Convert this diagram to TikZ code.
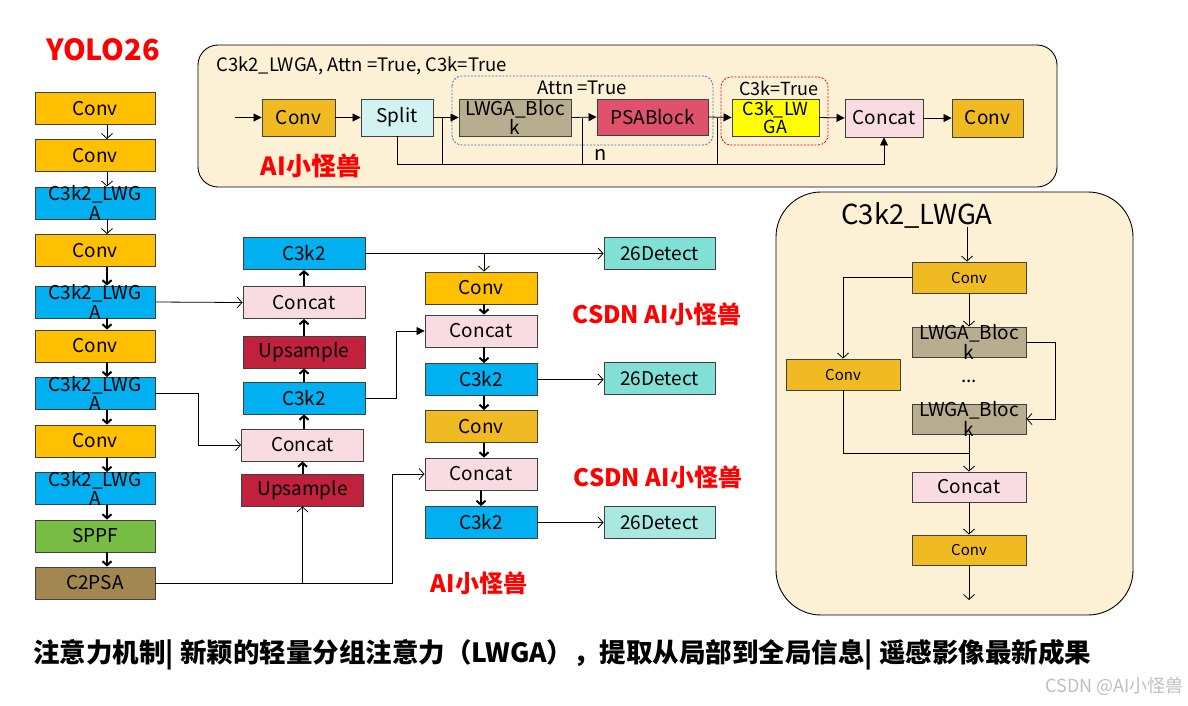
\documentclass[tikz,border=0pt]{standalone}
\usepackage{fontspec}
\setmainfont{Noto Sans CJK SC}
\usetikzlibrary{arrows.meta,calc}
\definecolor{cOr}{HTML}{FFC000}
\definecolor{cGold}{HTML}{F0BA22}
\definecolor{cBl}{HTML}{00B0F0}
\definecolor{cPk}{HTML}{F8DCE2}
\definecolor{cCr}{HTML}{C0213D}
\definecolor{cGr}{HTML}{77BC43}
\definecolor{cBr}{HTML}{A38750}
\definecolor{cTq}{HTML}{80E0D6}
\definecolor{cTq2}{HTML}{A8E8E0}
\definecolor{cCream}{HTML}{FCF0D5}
\definecolor{cKh}{HTML}{B9AD8F}
\definecolor{cPsa}{HTML}{E0526B}
\definecolor{cSp}{HTML}{D3F2F2}
\definecolor{cYe}{HTML}{FFFF00}
\definecolor{cBd}{HTML}{404040}
\definecolor{cDb}{HTML}{4472C4}
\definecolor{cRd}{HTML}{FF0000}
\tikzset{
 box/.style={draw=cBd, line width=0.9pt, inner sep=0pt, align=center, minimum height=32pt, font=\fontsize{19}{20}\selectfont},
 two/.style={label={[align=center, inner sep=0pt, font=\fontsize{19}{19.5}\selectfont]center:#1}},
 oarr/.style={draw=black, line width=0.8pt, -{Straight Barb[length=5pt,width=11pt]}},
 tarr/.style={draw=black, line width=2pt, -{Straight Barb[length=4pt,width=9pt]}},
 farr/.style={draw=black, line width=0.8pt, -{Triangle[length=8pt,width=8pt]}},
 ln/.style={draw=black, line width=0.8pt},
 wm/.style={text=cRd, font=\bfseries\fontsize{24}{28}\selectfont, inner sep=0pt},
}
\begin{document}
\begin{tikzpicture}[x=1pt,y=-1pt]
\useasboundingbox[fill=white] (0,0) rectangle (1188,705);

% ---------- title ----------
\node[wm, font=\bfseries\fontsize{29}{32}\selectfont] (yolo) at (103,50) {YOLO26};

% ---------- left backbone ----------
\node[box, fill=cOr, minimum width=120pt] (L1) at (95,108.5) {Conv};
\node[box, fill=cOr, minimum width=120pt] (L2) at (95,155.5) {Conv};
\node[box, fill=cBl, minimum width=120pt, two={C3k2\_LWG\\A}] (L3) at (95,203) {};
\node[box, fill=cOr, minimum width=120pt] (L4) at (95,250.5) {Conv};
\node[box, fill=cBl, minimum width=120pt, two={C3k2\_LWG\\A}] (L5) at (95,302) {};
\node[box, fill=cOr, minimum width=120pt] (L6) at (95,346) {Conv};
\node[box, fill=cBl, minimum width=120pt, two={C3k2\_LWG\\A}] (L7) at (95,393.5) {};
\node[box, fill=cOr, minimum width=120pt] (L8) at (95,441) {Conv};
\node[box, fill=cBl, minimum width=120pt, two={C3k2\_LWG\\A}] (L9) at (95,488.5) {};
\node[box, fill=cGr, minimum width=120pt] (L10) at (95,536) {SPPF};
\node[box, fill=cBr, minimum width=120pt] (L11) at (95,583) {C2PSA};
\coordinate (ax) at (107,0);
\draw[oarr] (L1.south -| ax) -- (L2.north -| ax);
\draw[oarr] (L2.south -| ax) -- (L3.north -| ax);
\draw[oarr] (L3.south -| ax) -- (L4.north -| ax);
\draw[tarr] (L4.south -| ax) -- (L5.north -| ax);
\draw[tarr] (L5.south -| ax) -- (L6.north -| ax);
\draw[tarr] (L6.south -| ax) -- (L7.north -| ax);
\draw[tarr] (L7.south -| ax) -- (L8.north -| ax);
\draw[tarr] (L8.south -| ax) -- (L9.north -| ax);
\draw[tarr] (L9.south -| ax) -- (L10.north -| ax);
\draw[tarr] (L10.south -| ax) -- (L11.north -| ax);

% ---------- neck column 1 ----------
\node[box, fill=cBl, minimum width=122pt] (M1) at (304,253.5) {C3k2};
\node[box, fill=cPk, minimum width=122pt] (M2) at (304,302.5) {Concat};
\node[box, fill=cCr, minimum width=122pt] (M3) at (304,352) {Upsample};
\node[box, fill=cBl, minimum width=122pt] (M4) at (304,398) {C3k2};
\node[box, fill=cPk, minimum width=122pt] (M5) at (302.5,445) {Concat};
\node[box, fill=cCr, minimum width=122pt] (M6) at (302.5,490) {Upsample};
\draw[tarr] (M5.north -| M1) -- (M4.south);
\draw[tarr] (M6.north) -- (M5.south);
\draw[tarr] (M4.north) -- (M3.south);
\draw[tarr] (M3.north) -- (M2.south);
\draw[tarr] (M2.north) -- (M1.south);

% ---------- neck column 2 ----------
\node[box, fill=cOr, minimum width=112pt] (N1) at (481,288) {Conv};
\node[box, fill=cPk, minimum width=112pt] (N2) at (481,331) {Concat};
\node[box, fill=cBl, minimum width=112pt] (N3) at (481,379.5) {C3k2};
\node[box, fill=cGold, minimum width=112pt] (N4) at (481,426.5) {Conv};
\node[box, fill=cPk, minimum width=112pt] (N5) at (481,474) {Concat};
\node[box, fill=cBl, minimum width=112pt] (N6) at (481,522.5) {C3k2};
\coordinate (bx) at (484,0);
\draw[tarr] (N1.south -| bx) -- (N2.north -| bx);
\draw[tarr] (N2.south -| bx) -- (N3.north -| bx);
\draw[tarr] (N3.south -| bx) -- (N4.north -| bx);
\draw[tarr] (N4.south -| bx) -- (N5.north -| bx);
\draw[tarr] (N5.south) -- (N6.north);

% ---------- detect ----------
\node[box, fill=cTq, minimum width=111pt] (D1) at (659.5,253.5) {26Detect};
\node[box, fill=cTq, minimum width=111pt] (D2) at (659.5,378.5) {26Detect};
\node[box, fill=cTq2, minimum width=111pt] (D3) at (659.5,522.5) {26Detect};

% ---------- neck connectors ----------
\draw[oarr] (L5.east) -- (M2.west);
\coordinate (k1) at (198,0);
\draw[oarr] (L7.east) -| (k1 |- M5.west) -- (M5.west);
\coordinate (j1) at (392,0);
\draw[oarr] (L11.east) -| (j1 |- N5.west) -- (N5.west);
\draw[oarr] (M6.south |- L11.east) -- (M6.south);
\coordinate (j2) at (396,0);
\draw[farr] (M4.east) -| (j2 |- N2.west) -- (N2.west);
\draw[oarr] (M1.east) -- (D1.west);
\draw[oarr] (M1.east -| bx) -- (N1.north -| bx);
\draw[oarr] (N3.east) -- (N3.east -| D2.west);
\draw[oarr] (N6.east) -- (D3.west);

\node[wm] (w1) at (657,314) {CSDN AI小怪兽};
\node[wm] (w2) at (658,477) {CSDN AI小怪兽};
\node[wm] (w3) at (479,583) {AI小怪兽};

% ---------- top panel ----------
\draw[line width=0.9pt, fill=cCream, rounded corners=20pt] (198,45) rectangle (1057,187);
\node[anchor=west, inner sep=0pt, font=\fontsize{18.5}{20}\selectfont] (ttl) at (216,66) {C3k2\_LWGA, Attn =True, C3k=True};
\draw[cDb, line width=0.8pt, dash pattern=on 2pt off 1.5pt, rounded corners=10pt] (452,76) rectangle (713,145);
\draw[cRd, line width=0.8pt, dash pattern=on 2pt off 1.5pt, rounded corners=10pt] (721,77) rectangle (828,145);
\node[inner sep=0pt, font=\fontsize{18.5}{20}\selectfont] (attn) at (582,88) {Attn =True};
\node[inner sep=0pt, font=\fontsize{18}{20}\selectfont] (c3kt) at (779,88.5) {C3k=True};
\node[box, fill=cGold, minimum width=73pt, minimum height=37pt] (T0) at (298.5,117.5) {Conv};
\node[box, fill=cSp, minimum width=72pt, minimum height=37pt] (T1) at (397,117.5) {Split};
\node[box, fill=cKh, minimum width=112pt, minimum height=37pt, two={LWGA\_Bloc\\k}] (T2) at (515,117.5) {};
\node[box, fill=cPsa, minimum width=111pt, minimum height=36pt] (T3) at (652.5,117) {PSABlock};
\node[box, fill=cYe, minimum width=87pt, minimum height=37pt, label={[align=center, inner sep=0pt, font=\fontsize{18}{18.5}\selectfont]center:C3k\_LW\\GA}] (T4) at (775.5,117.5) {};
\node[box, fill=cPk, minimum width=78pt, minimum height=38pt] (T5) at (884,118) {Concat};
\node[box, fill=cGold, minimum width=71pt, minimum height=38pt] (T6) at (987.5,118) {Conv};
\coordinate (tin) at (235,117.5);
\draw[farr] (tin) -- (T0.west);
\draw[farr] (T0.east) -- (T1.west);
\draw[farr] (T1.east) -- (T2.west);
\draw[farr] (T2.east) -- (T3.west);
\draw[farr] (T3.east) -- (T4.west);
\draw[farr] (T4.east) -- (T5.west);
\draw[farr] (T5.east) -- (T6.west);
\coordinate (nb) at (0,164);
\draw[farr] (T1.south) -- (T1.south |- nb) -| (T5.south);
\coordinate (s1) at (442,117.5);
\coordinate (s2) at (582,117.5);
\coordinate (s3) at (717,117.5);
\draw[ln] (s1) -- (s1 |- nb);
\draw[ln] (s2) -- (s2 |- nb);
\draw[ln] (s3) -- (s3 |- nb);
\node[inner sep=0pt, font=\fontsize{20}{22}\selectfont] (n) at (601,155) {n};
\node[wm, font=\bfseries\fontsize{25}{28}\selectfont] (w4) at (311,166) {AI小怪兽};

% ---------- right panel ----------
\draw[line width=0.9pt, fill=cCream, rounded corners=45pt] (776,192) rectangle (1133,615);
\node[inner sep=0pt, font=\fontsize{27.5}{30}\selectfont] (rt) at (917,215) {C3k2\_LWGA};
\node[box, fill=cGold, minimum width=114pt, minimum height=31pt, font=\fontsize{15}{16}\selectfont] (RC1) at (969,277.5) {Conv};
\node[box, fill=cKh, minimum width=114pt, minimum height=30pt, two={LWGA\_Bloc\\k}] (RB1) at (969,342) {};
\node[inner sep=0pt, font=\fontsize{19}{20}\selectfont] (dots) at (969,381) {...};
\node[box, fill=cKh, minimum width=114pt, minimum height=30pt, two={LWGA\_Bloc\\k}] (RB2) at (969,419) {};
\node[box, fill=cGold, minimum width=114pt, minimum height=31pt, font=\fontsize{15}{16}\selectfont] (RL) at (843,374.5) {Conv};
\node[box, fill=cPk, minimum width=114pt, minimum height=30pt] (RCat) at (969,487) {Concat};
\node[box, fill=cGold, minimum width=114pt, minimum height=30pt, font=\fontsize{15}{16}\selectfont] (RC2) at (969,550) {Conv};
\coordinate (rin) at (967,227);
\coordinate (rout) at (969,600);
\coordinate (mg) at (969,453);
\draw[oarr] (rin) -- (RC1.north -| rin);
\draw[oarr] (RC1.south) -- (RB1.north);
\draw[oarr] (RC1.west) -| (RL.north);
\draw[oarr] (RB1.east) -- ++(29,0) |- (RB2.east);
\draw[ln] (RL.south) |- (mg);
\draw[oarr] (RB2.south) -- (RCat.north);
\draw[oarr] (RCat.south) -- (RC2.north);
\draw[oarr] (RC2.south) -- (rout);

% ---------- caption ----------
\node[anchor=west, inner sep=0pt, font=\bfseries\fontsize{26.5}{30}\selectfont] (cap) at (33,655) {注意力机制| 新颖的轻量分组注意力（LWGA），提取从局部到全局信息| 遥感影像最新成果};
\node[anchor=east, inner sep=0pt, text=black!25, font=\fontsize{18}{20}\selectfont] (wmk) at (1184,686) {CSDN @AI小怪兽};
\end{tikzpicture}
\end{document}
